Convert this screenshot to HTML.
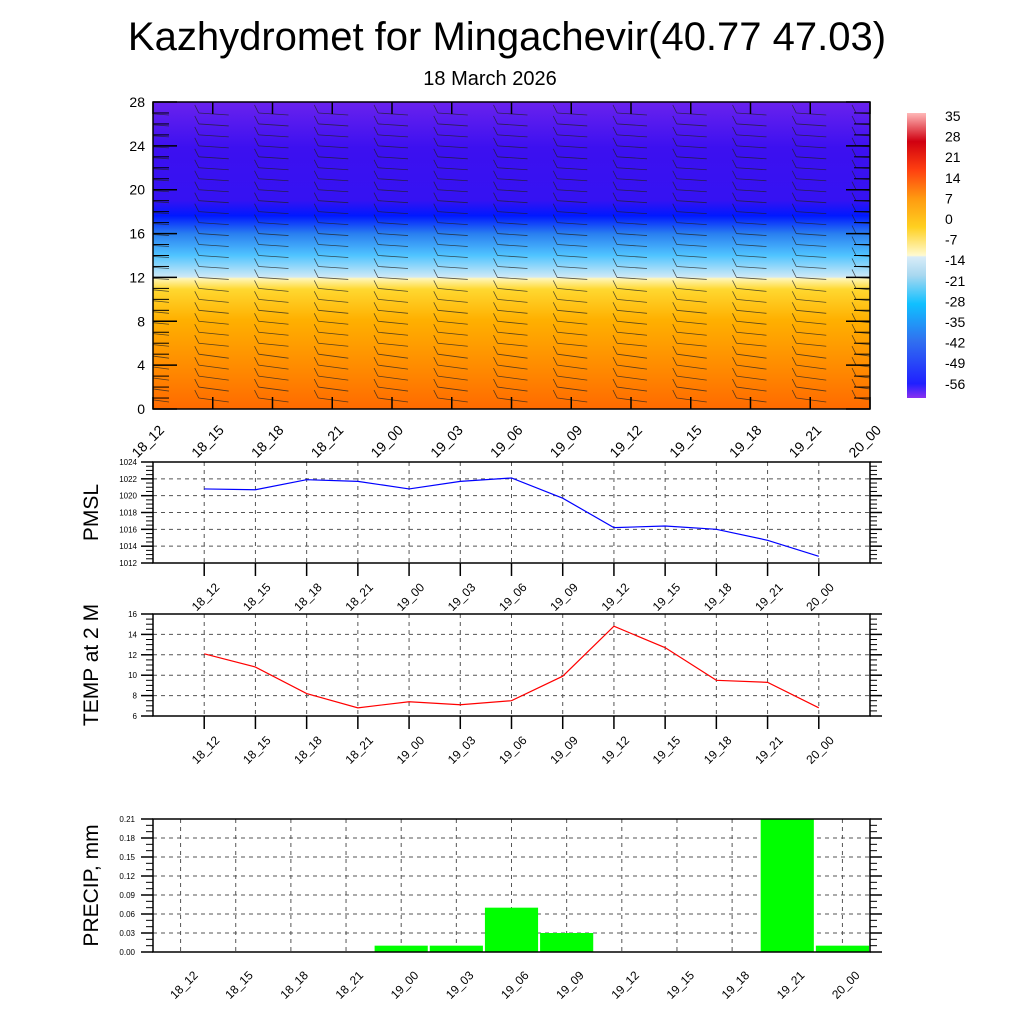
<!DOCTYPE html>
<html><head><meta charset="utf-8"><style>
html,body{margin:0;padding:0;background:#fff;}
svg{display:block;font-family:"Liberation Sans",sans-serif;}
</style></head><body>
<svg id="chart" width="1024" height="1024" viewBox="0 0 1024 1024" xmlns="http://www.w3.org/2000/svg">
<defs>
<linearGradient id="tgrad" x1="0" y1="1" x2="0" y2="0">
<stop offset="0" stop-color="#ff6a00"/>
<stop offset="0.14" stop-color="#ff8c00"/>
<stop offset="0.29" stop-color="#ffb000"/>
<stop offset="0.39" stop-color="#ffd830"/>
<stop offset="0.425" stop-color="#fff6b8"/>
<stop offset="0.43" stop-color="#cfe9f6"/>
<stop offset="0.5" stop-color="#50c4ff"/>
<stop offset="0.57" stop-color="#2a80f0"/>
<stop offset="0.63" stop-color="#0018ff"/>
<stop offset="0.68" stop-color="#3512f2"/>
<stop offset="0.85" stop-color="#3c10f0"/>
<stop offset="1" stop-color="#6a22ee"/>
</linearGradient>
<linearGradient id="cbgrad" x1="0" y1="1" x2="0" y2="0">
<stop offset="0" stop-color="#8a30f0"/>
<stop offset="0.05" stop-color="#2020ff"/>
<stop offset="0.2" stop-color="#3070f0"/>
<stop offset="0.33" stop-color="#10c0ff"/>
<stop offset="0.43" stop-color="#a8d8f0"/>
<stop offset="0.495" stop-color="#d8ecf8"/>
<stop offset="0.5" stop-color="#fffad0"/>
<stop offset="0.6" stop-color="#ffd020"/>
<stop offset="0.7" stop-color="#ff9a10"/>
<stop offset="0.8" stop-color="#ff4010"/>
<stop offset="0.9" stop-color="#d00010"/>
<stop offset="1" stop-color="#ffb8b8"/>
</linearGradient>
<clipPath id="topclip"><rect x="153" y="102" width="717" height="307"/></clipPath>
</defs>
<text x="507" y="50" font-size="40" text-anchor="middle">Kazhydromet for Mingachevir(40.77 47.03)</text>
<text x="490" y="85" font-size="20" text-anchor="middle">18 March 2026</text>
<g id="g"></g>
</svg>
<script>
const categories=["18_12","18_15","18_18","18_21","19_00","19_03","19_06","19_09","19_12","19_15","19_18","19_21","20_00"];
const pmslValues=[1020.8,1020.7,1021.9,1021.7,1020.8,1021.7,1022.1,1019.7,1016.2,1016.4,1016.0,1014.7,1012.8];
const pmslTicks=[1012,1014,1016,1018,1020,1022,1024];
const tempValues=[12.1,10.8,8.2,6.8,7.4,7.1,7.5,9.9,14.8,12.7,9.5,9.3,6.8];
const tempTicks=[6,8,10,12,14,16];
const precipValues=[0,0,0,0,0.01,0.01,0.07,0.03,0,0,0,0.21,0.01];
const precipTicks=[0,0.03,0.06,0.09,0.12,0.15,0.18,0.21];
const heightTicks=[0,4,8,12,16,20,24,28];
const cbLabels=[35,28,21,14,7,0,-7,-14,-21,-28,-35,-42,-49,-56];

const NS="http://www.w3.org/2000/svg";
const G=document.getElementById('g');
function mk(tag,attrs,parent){const e=document.createElementNS(NS,tag);for(const k in attrs)e.setAttribute(k,attrs[k]);(parent||G).appendChild(e);return e;}
const L=153,R=870;

// ---------- Top panel ----------
const tT=102,tB=409;
const hy=v=>tB-(v-0)/(28-0)*(tB-tT);
const tx=i=>L+i*(R-L)/12;
let bg=mk('rect',{x:L,y:tT,width:R-L,height:tB-tT,fill:'url(#tgrad)'});


const barbs=mk('g',{stroke:'#222','stroke-width':'0.8',fill:'none','stroke-opacity':'0.75','clip-path':'url(#topclip)'});


for(let i=0;i<13;i++){for(let h=1;h<28;h++){
  const x=tx(i)-14,y=hy(h);
  let dy=(h<12)?3:2;
  if(h<6){dy=4;}
  mk('line',{x1:x,y1:y,x2:x+30,y2:y+dy},barbs);
  mk('line',{x1:x,y1:y,x2:x-4,y2:y-8},barbs);
}}
let fr=mk('rect',{x:L,y:tT,width:R-L,height:tB-tT,fill:'none',stroke:'#000','stroke-width':'1.5'});


for(let v=0;v<=28;v++){const y=hy(v);const maj=v%4===0;
  mk('line',{x1:L,y1:y,x2:L+(maj?24:16),y2:y,stroke:'#000','stroke-width':maj?1.5:1});
  mk('line',{x1:R,y1:y,x2:R-(maj?24:16),y2:y,stroke:'#000','stroke-width':maj?1.5:1});}
heightTicks.forEach(v=>{const t=mk('text',{x:L-8,y:hy(v)+5,'font-size':'14','text-anchor':'end'});t.textContent=v;
  });
categories.forEach((c,i)=>{const x=tx(i);
  mk('line',{x1:x,y1:tB,x2:x,y2:tB-12,stroke:'#000','stroke-width':1.5});
  mk('line',{x1:x,y1:tT,x2:x,y2:tT+12,stroke:'#000','stroke-width':1.5});
  const t=mk('text',{x:x+12,y:tB+22,'font-size':'14','text-anchor':'end',transform:`rotate(-45 ${x+12} ${tB+22})`});t.textContent=c;
  });
let cb=mk('rect',{x:907,y:113,width:19,height:285,fill:'url(#cbgrad)'});


cbLabels.forEach((v,k)=>{const t=mk('text',{x:945,y:121+k*20.6,'font-size':'14'});t.textContent=v;
  });

// ---------- line panels ----------
function linePanel(top,bot,ticks,vals,color,title,name,fmt,minorN){
  const lo=ticks[0],hi=ticks[ticks.length-1];
  const y=v=>bot-(v-lo)/(hi-lo)*(bot-top);
  const x=i=>L+(i+1)*(R-L)/14;
  const g=mk('g',{});
  
  
  ticks.forEach(v=>{mk('line',{x1:L,y1:y(v),x2:R,y2:y(v),stroke:'#555','stroke-width':1,'stroke-dasharray':'4 4'},g);
    mk('line',{x1:L,y1:y(v),x2:L-12,y2:y(v),stroke:'#000','stroke-width':1.5},g);
    mk('line',{x1:R,y1:y(v),x2:R+12,y2:y(v),stroke:'#000','stroke-width':1.5},g);
    const t=mk('text',{x:L-16,y:y(v)+3,'font-size':'8','text-anchor':'end'},g);t.textContent=fmt(v);
    });
  for(let k=0;k<ticks.length-1;k++){for(let m=1;m<minorN;m++){const v=ticks[k]+(ticks[k+1]-ticks[k])*m/minorN;
    mk('line',{x1:L,y1:y(v),x2:L-7,y2:y(v),stroke:'#000','stroke-width':1},g);
    mk('line',{x1:R,y1:y(v),x2:R+7,y2:y(v),stroke:'#000','stroke-width':1},g);}}
  categories.forEach((c,i)=>{const xx=x(i);
    mk('line',{x1:xx,y1:top,x2:xx,y2:bot,stroke:'#555','stroke-width':1,'stroke-dasharray':'4 4'},g);
    mk('line',{x1:xx,y1:bot,x2:xx,y2:bot+13,stroke:'#000','stroke-width':1.5},g);
    const t=mk('text',{x:xx+16,y:bot+25,'font-size':'12','text-anchor':'end',transform:`rotate(-45 ${xx+16} ${bot+25})`},g);t.textContent=c;
    });
  mk('rect',{x:L,y:top,width:R-L,height:bot-top,fill:'none',stroke:'#000','stroke-width':1.5},g);
  const p=mk('polyline',{points:vals.map((v,i)=>x(i)+','+y(v)).join(' '),fill:'none',stroke:color,'stroke-width':1.2},g);
  
  
  const t=mk('text',{x:0,y:0,'font-size':'21','text-anchor':'middle',transform:`translate(98 ${(top+bot)/2}) rotate(-90)`},g);t.textContent=title;
  
}
linePanel(462,563,pmslTicks,pmslValues,'#0000ff','PMSL','pmsl',v=>v,4);
linePanel(614,716,tempTicks,tempValues,'#ff0000','TEMP at 2 M','temp',v=>v,4);

// ---------- precip bars ----------
(function(){
  const top=819,bot=952,lo=0,hi=0.21;
  const y=v=>bot-(v-lo)/(hi-lo)*(bot-top);
  const w=(R-L)/13;
  const x=i=>L+(i+0.5)*w;
  const g=mk('g',{});
  
  
  precipTicks.forEach(v=>{mk('line',{x1:L,y1:y(v),x2:R,y2:y(v),stroke:'#555','stroke-width':1,'stroke-dasharray':'4 4'},g);
    mk('line',{x1:L,y1:y(v),x2:L-12,y2:y(v),stroke:'#000','stroke-width':1.5},g);
    mk('line',{x1:R,y1:y(v),x2:R+12,y2:y(v),stroke:'#000','stroke-width':1.5},g);
    const t=mk('text',{x:L-18,y:y(v)+3,'font-size':'8','text-anchor':'end'},g);t.textContent=v.toFixed(2);
    });
  for(let k=0;k<precipTicks.length-1;k++){for(let m=1;m<3;m++){const v=precipTicks[k]+(precipTicks[k+1]-precipTicks[k])*m/3;
    mk('line',{x1:L,y1:y(v),x2:L-7,y2:y(v),stroke:'#000','stroke-width':1},g);
    mk('line',{x1:R,y1:y(v),x2:R+7,y2:y(v),stroke:'#000','stroke-width':1},g);}}
  categories.forEach((c,i)=>{const xx=x(i);
    mk('line',{x1:xx,y1:top,x2:xx,y2:bot,stroke:'#555','stroke-width':1,'stroke-dasharray':'4 4'},g);
    const t=mk('text',{x:xx+18,y:bot+24,'font-size':'12','text-anchor':'end',transform:`rotate(-45 ${xx+18} ${bot+24})`},g);t.textContent=c;
    });
  precipValues.forEach((v,i)=>{if(v<=0)return;
    const b=mk('rect',{x:x(i)-w/2+1,y:y(v),width:w-2,height:bot-y(v),fill:'#00ff00'},g);
    
    });
  mk('rect',{x:L,y:top,width:R-L,height:bot-top,fill:'none',stroke:'#000','stroke-width':1.5},g);
  const t=mk('text',{x:0,y:0,'font-size':'21','text-anchor':'middle',transform:`translate(98 ${(top+bot)/2}) rotate(-90)`},g);t.textContent='PRECIP, mm';
  
})();
</script>
</body></html>
